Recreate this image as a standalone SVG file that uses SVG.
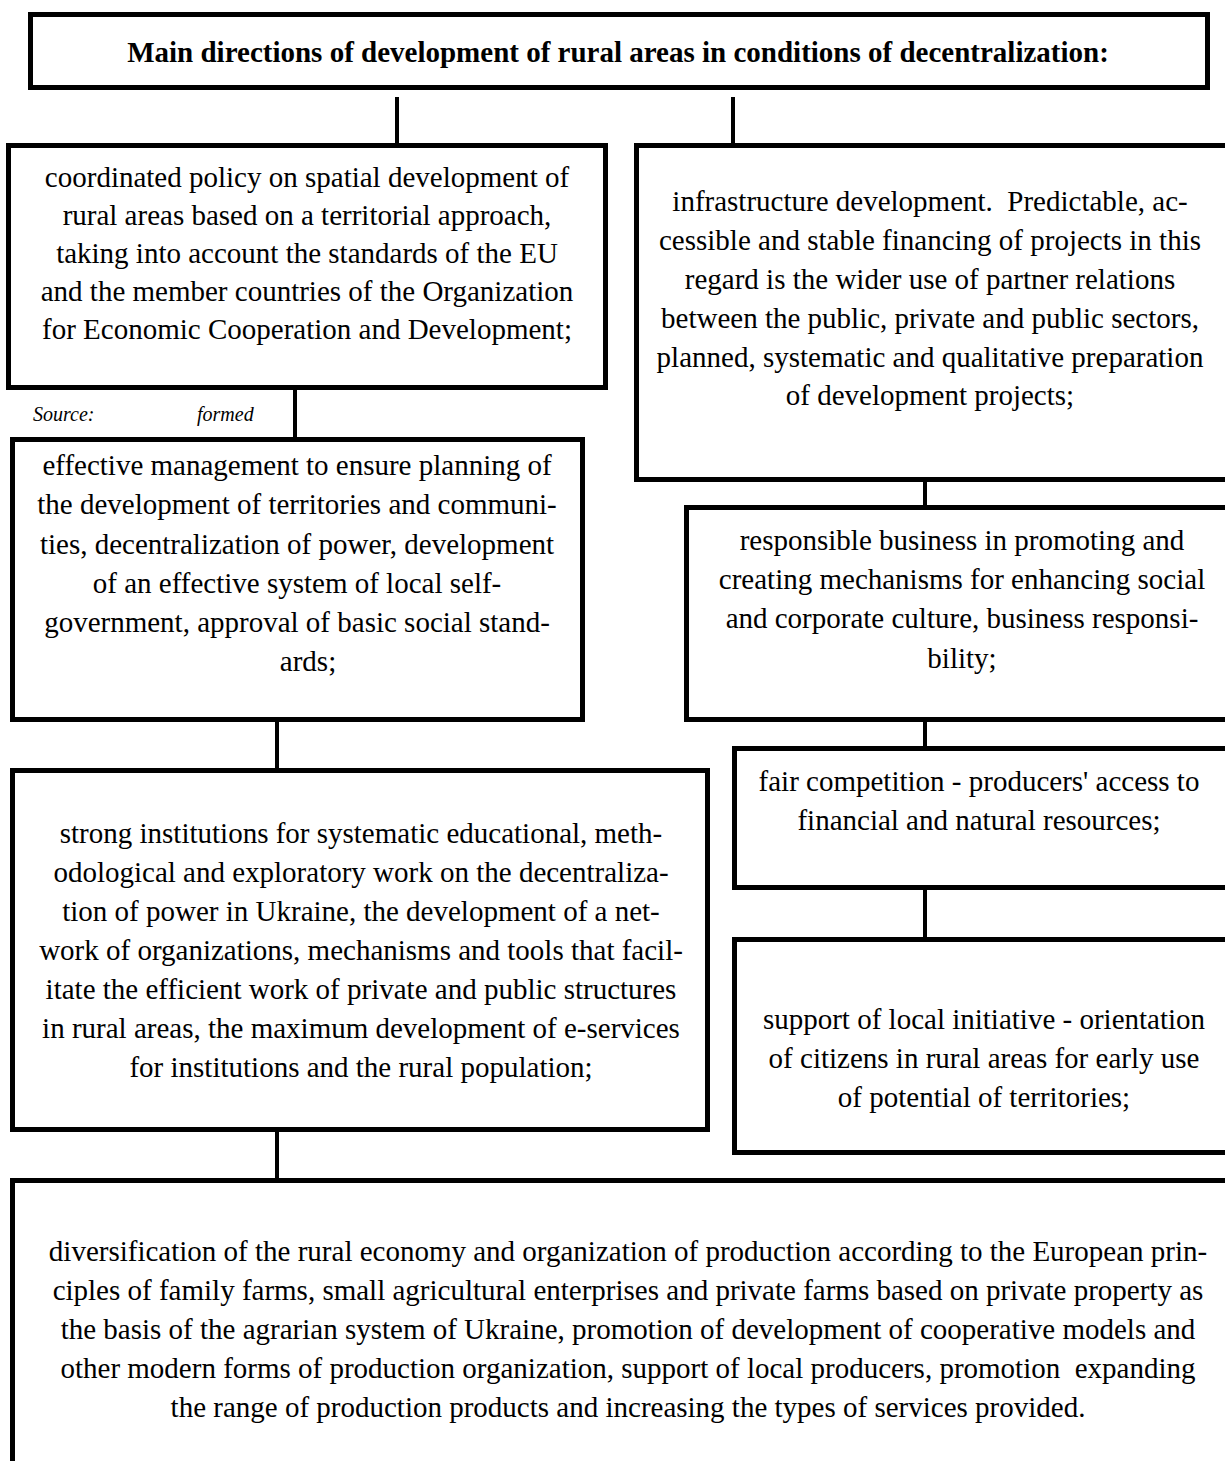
<svg xmlns="http://www.w3.org/2000/svg" width="1225" height="1461" viewBox="0 0 1225 1461">
<style>
.box{fill:#fff;stroke:#000;stroke-width:5}
.c{stroke:#000;stroke-width:4;fill:none}
.t{font-family:"Liberation Serif","Times New Roman",serif;font-size:29px;fill:#000;text-anchor:middle}
.h{font-family:"Liberation Serif","Times New Roman",serif;font-size:29px;font-weight:bold;fill:#000;text-anchor:middle}
.s{font-family:"Liberation Serif","Times New Roman",serif;font-size:20px;font-style:italic;fill:#000}
</style>
<rect width="1225" height="1461" fill="#fff"/>
<g id="connectors">
<line class="c" x1="397" y1="97" x2="397" y2="146"/>
<line class="c" x1="733" y1="97" x2="733" y2="146"/>
<line class="c" x1="295" y1="390" x2="295" y2="439"/>
<line class="c" x1="277" y1="722" x2="277" y2="770"/>
<line class="c" x1="277" y1="1132" x2="277" y2="1180"/>
<line class="c" x1="925" y1="482" x2="925" y2="507"/>
<line class="c" x1="925" y1="722" x2="925" y2="748"/>
<line class="c" x1="925" y1="890" x2="925" y2="939"/>
</g>
<g id="title">
<rect class="box" x="30.5" y="14.5" width="1177" height="73"/>
<text class="h" x="618" y="62">Main directions of development of rural areas in conditions of decentralization:</text>
</g>
<g id="policy">
<rect class="box" x="8.5" y="145.5" width="597" height="242"/>
<text class="t" x="307" y="187">coordinated policy on spatial development of</text>
<text class="t" x="307" y="225">rural areas based on a territorial approach,</text>
<text class="t" x="307" y="263">taking into account the standards of the EU</text>
<text class="t" x="307" y="301">and the member countries of the Organization</text>
<text class="t" x="307" y="339">for Economic Cooperation and Development;</text>
</g>
<g id="source">
<text class="s" x="33" y="421">Source:</text>
<text class="s" x="197" y="421">formed</text>
</g>
<g id="management">
<rect class="box" x="12.5" y="439.5" width="570" height="280"/>
<text class="t" x="297" y="475">effective management to ensure planning of</text>
<text class="t" x="297" y="514">the development of territories and communi-</text>
<text class="t" x="297" y="554">ties, decentralization of power, development</text>
<text class="t" x="297" y="593">of an effective system of local self-</text>
<text class="t" x="297" y="632">government, approval of basic social stand-</text>
<text class="t" x="308" y="671">ards;</text>
</g>
<g id="institutions">
<rect class="box" x="12.5" y="770.5" width="695" height="359"/>
<text class="t" x="361" y="843">strong institutions for systematic educational, meth-</text>
<text class="t" x="361" y="882">odological and exploratory work on the decentraliza-</text>
<text class="t" x="361" y="921">tion of power in Ukraine, the development of a net-</text>
<text class="t" x="361" y="960">work of organizations, mechanisms and tools that facil-</text>
<text class="t" x="361" y="999">itate the efficient work of private and public structures</text>
<text class="t" x="361" y="1038">in rural areas, the maximum development of e-services</text>
<text class="t" x="361" y="1077">for institutions and the rural population;</text>
</g>
<g id="diversification">
<rect class="box" x="12.5" y="1180.5" width="1240" height="320"/>
<text class="t" x="628" y="1261">diversification of the rural economy and organization of production according to the European prin-</text>
<text class="t" x="628" y="1300">ciples of family farms, small agricultural enterprises and private farms based on private property as</text>
<text class="t" x="628" y="1339">the basis of the agrarian system of Ukraine, promotion of development of cooperative models and</text>
<text class="t" x="628" y="1378" xml:space="preserve">other modern forms of production organization, support of local producers, promotion  expanding</text>
<text class="t" x="628" y="1417">the range of production products and increasing the types of services provided.</text>
</g>
<g id="infrastructure">
<rect class="box" x="636.5" y="145.5" width="600" height="334"/>
<text class="t" x="930" y="211" xml:space="preserve">infrastructure development.  Predictable, ac-</text>
<text class="t" x="930" y="250">cessible and stable financing of projects in this</text>
<text class="t" x="930" y="289">regard is the wider use of partner relations</text>
<text class="t" x="930" y="328">between the public, private and public sectors,</text>
<text class="t" x="930" y="367">planned, systematic and qualitative preparation</text>
<text class="t" x="930" y="405">of development projects;</text>
</g>
<g id="business">
<rect class="box" x="686.5" y="507.5" width="560" height="212"/>
<text class="t" x="962" y="550">responsible business in promoting and</text>
<text class="t" x="962" y="589">creating mechanisms for enhancing social</text>
<text class="t" x="962" y="628">and corporate culture, business responsi-</text>
<text class="t" x="962" y="668">bility;</text>
</g>
<g id="competition">
<rect class="box" x="734.5" y="748.5" width="520" height="139"/>
<text class="t" x="979" y="791">fair competition - producers' access to</text>
<text class="t" x="979" y="830">financial and natural resources;</text>
</g>
<g id="initiative">
<rect class="box" x="734.5" y="939.5" width="520" height="213"/>
<text class="t" x="984" y="1029">support of local initiative - orientation</text>
<text class="t" x="984" y="1068">of citizens in rural areas for early use</text>
<text class="t" x="984" y="1107">of potential of territories;</text>
</g>
</svg>
